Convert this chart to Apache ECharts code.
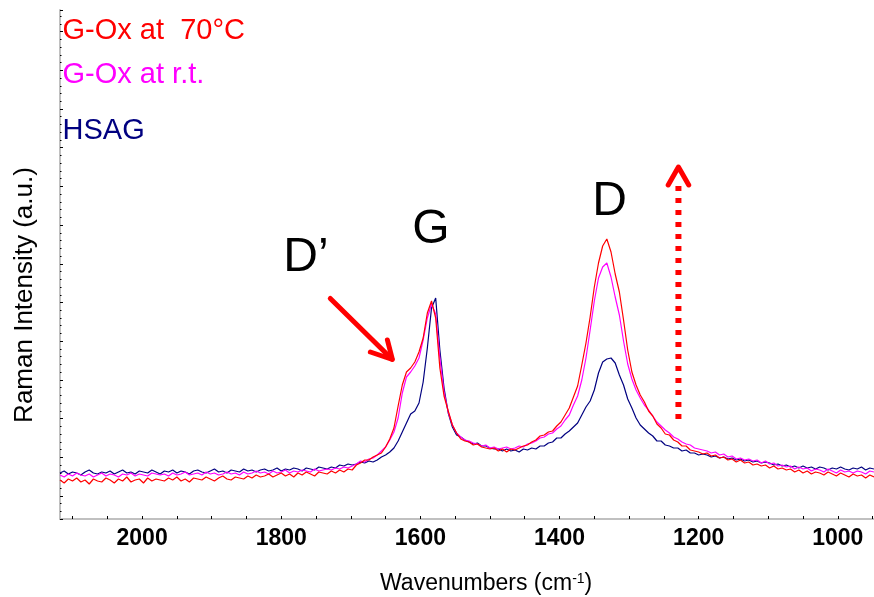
<!DOCTYPE html>
<html>
<head>
<meta charset="utf-8">
<script src="https://cdn.jsdelivr.net/npm/echarts@6/dist/echarts.min.js"></script>
<style>html,body{margin:0;padding:0;background:#fff}#main{width:874px;height:597px}</style>
</head>
<body>
<div id="main"></div>
<script>
// Wavenumbers (cm-1)
const wavenumbers = [
2118,2112,2106,2100,2094,2088,2082,2076,2070,2064,
2058,2052,2046,2040,2034,2028,2022,2016,2010,2004,
1998,1992,1986,1980,1974,1968,1962,1956,1950,1944,
1938,1932,1926,1920,1914,1908,1902,1896,1890,1884,
1878,1872,1866,1860,1854,1848,1842,1836,1830,1824,
1818,1812,1806,1800,1794,1788,1782,1776,1770,1764,
1758,1752,1746,1740,1734,1728,1722,1716,1710,1704,
1698,1692,1686,1680,1674,1668,1662,1656,1650,1644,
1638,1632,1626,1620,1614,1608,1602,1596,1590,1584,
1578,1572,1566,1560,1554,1548,1542,1536,1530,1524,
1518,1512,1506,1500,1494,1488,1482,1476,1470,1464,
1458,1452,1446,1440,1434,1428,1422,1416,1410,1404,
1398,1392,1386,1380,1374,1368,1362,1356,1350,1344,
1338,1332,1326,1320,1314,1308,1302,1296,1290,1284,
1278,1272,1266,1260,1254,1248,1242,1236,1230,1224,
1218,1212,1206,1200,1194,1188,1182,1176,1170,1164,
1158,1152,1146,1140,1134,1128,1122,1116,1110,1104,
1098,1092,1086,1080,1074,1068,1062,1056,1050,1044,
1038,1032,1026,1020,1014,1008,1002,996,990,984,
978,972,966,960,954,948];

// Raman intensity (a.u.)
const hsag = [
23,25,22,24,23,21,24,26,23,22,24,23,25,22,24,26,23,24,22,25,24,23,26,24,22,
25,24,26,23,25,24,22,25,26,24,23,25,27,24,25,23,26,25,24,27,25,26,24,26,
27,25,26,28,25,27,26,28,27,25,28,27,26,29,28,27,
29,28,31,30,32,31,
32,34,33,35,34,36,39,41,44,48,55,64,73,82,85,93,
114,148,188,198,146,108,83,69,61,59,56,
54,52,53,50,50,48,47,47,45,47,45,46,44,47,46,48,47,50,50,53,54,58,58,62,65,69,73,81,89,95,106,123,
134,137,138,133,121,111,97,88,78,71,
67,63,60,55,55,51,50,48,48,45,46,43,43,41,42,
41,39,40,38,39,37,38,36,37,35,36,34,35,33,34,33,31,32,30,31,29,30,28,30,28,29,27,29,28,26,28,27,29,27,26,28,27,29,26,28,27];

const goxRT = [
21,19,22,20,23,21,20,22,19,21,23,20,22,21,19,22,21,23,20,22,21,20,23,22,21,
22,20,23,21,22,24,21,22,23,21,24,22,23,21,22,24,22,23,21,24,22,23,25,23,
24,22,25,23,24,26,23,25,24,26,25,24,27,25,26,27,
26,28,27,29,28,30,
32,35,34,37,38,41,45,49,56,64,78,103,119,124,130,138,
156,178,192,182,138,104,84,71,63,59,56,
55,53,52,50,51,48,49,47,48,49,47,48,50,49,52,53,55,58,59,62,63,67,70,76,81,91,100,116,138,166,195,218,
229,233,219,199,181,155,132,117,106,98,
91,86,80,74,70,66,63,59,57,54,52,51,48,47,46,
45,43,44,41,42,39,40,37,38,36,37,35,36,33,35,32,33,30,31,29,30,27,29,27,28,25,27,26,24,27,25,23,26,24,25,23,25,24,22,25,24];

const gox70 = [
16,13,17,15,18,14,16,12,17,15,14,18,16,13,17,15,19,14,16,17,13,18,15,17,16,
15,18,16,19,15,17,14,18,17,16,19,17,15,18,20,17,16,19,18,17,20,18,21,19,
20,22,19,21,23,20,22,19,23,21,24,22,20,24,23,22,
25,23,26,24,27,26,
31,33,36,36,39,41,43,49,57,68,90,111,124,128,134,144,
158,183,195,178,128,100,85,71,63,57,55,
54,51,52,49,48,47,48,45,47,44,47,46,48,50,51,54,56,60,61,64,65,70,74,81,88,99,110,131,153,179,209,233,
250,257,244,222,204,176,146,124,111,101,
94,85,80,72,68,62,61,56,54,50,50,46,45,44,42,
43,40,41,38,39,36,37,34,36,33,34,31,32,30,31,28,30,27,28,26,27,24,26,23,25,22,24,23,21,24,22,20,23,21,19,22,20,21,18,21,19];

const seriesNames = ['HSAG', 'G-Ox at r.t.', 'G-Ox at  70\u00B0C'];
const xTickLabels = [1000, 1200, 1400, 1600, 1800, 2000];

// annotations in data coordinates [wavenumber, intensity]
const peakLabels = [
  {text: 'D\u2019', at: [1797, 238.5], align: 'left'},
  {text: 'G', at: [1584.8, 266], align: 'center'},
  {text: 'D', at: [1328, 294], align: 'center'}
];
const dPrimeArrow = {shaft: [[1729.5, 197.5], [1641, 137]], head: [[1671.9, 144], [1640.2, 136.5], [1647.4, 156]]};
const riseArrow = {shaft: [[1229.1, 77], [1229.1, 310]], head: [[1243.8, 311], [1229.1, 329], [1214.3, 311]]};

const FONT = '"Liberation Sans", Arial, Helvetica, sans-serif';
const colors = ['#000080', '#ff00ff', '#ff0000'];
const dataSets = [hsag, goxRT, gox70];

const chart = echarts.init(document.getElementById('main'), null, {renderer: 'canvas', width: 874, height: 597});
chart.setOption({
  animation: false,
  backgroundColor: '#ffffff',
  grid: {left: 60, right: 0, top: 10, bottom: 78, containLabel: false, outerBoundsMode: 'none'},
  xAxis: {
    type: 'value', inverse: true, min: 948, max: 2118,
    minInterval: 50, maxInterval: 50,
    axisLine: {show: true, onZero: false, lineStyle: {color: '#c0c0c0', width: 2}},
    axisTick: {show: true, inside: true, length: 3, lineStyle: {color: '#000', width: 1}},
    axisLabel: {
      formatter: v => (xTickLabels.indexOf(Math.round(v)) >= 0 && Math.abs(v - Math.round(v)) < 1e-6) ? String(Math.round(v)) : '',
      fontWeight: 'bold', fontSize: 23, color: '#000', fontFamily: FONT, margin: 8,
      showMinLabel: false, showMaxLabel: false, hideOverlap: false
    },
    splitLine: {show: false}
  },
  yAxis: {
    type: 'value', min: -23, max: 486,
    minInterval: 38.7, maxInterval: 38.7,
    axisLine: {show: true, onZero: false, lineStyle: {color: '#c0c0c0', width: 2}},
    axisTick: {show: true, inside: true, length: 3, lineStyle: {color: '#000', width: 1}},
    minorTick: {show: true, splitNumber: 5, length: 1.5, lineStyle: {color: '#000', width: 1}},
    axisLabel: {show: false},
    splitLine: {show: false}
  },
  series: dataSets.map((d, k) => ({
    name: seriesNames[k],
    type: 'line',
    showSymbol: false,
    symbol: 'none',
    data: wavenumbers.map((w, i) => [w, d[i]]),
    lineStyle: {color: colors[k], width: 1.2},
    itemStyle: {color: colors[k]},
    z: 2 + k
  }))
});

const toPx = p => chart.convertToPixel({gridIndex: 0}, p);
const g = [];
const legendRows = [
  {text: seriesNames[2], color: colors[2], y: 31},
  {text: seriesNames[1], color: colors[1], y: 74.5},
  {text: seriesNames[0], color: colors[0], y: 130.5}
];
legendRows.forEach(r => g.push({type: 'text', x: 62.5, y: r.y, z: 10,
  style: {text: r.text, fill: r.color, fontSize: 29, fontFamily: FONT, align: 'left', verticalAlign: 'middle'}}));
g.push({type: 'text', x: 25, y: 295, rotation: Math.PI / 2, z: 10,
  style: {text: 'Raman Intensity (a.u.)', fill: '#000', fontSize: 26, fontFamily: FONT, align: 'center', verticalAlign: 'middle'}});
g.push({type: 'text', x: 380, y: 584, z: 10,
  style: {text: '{n|Wavenumbers (cm}{s|-1}{n|)}', align: 'left', verticalAlign: 'middle',
    rich: {n: {fontSize: 23, fontFamily: FONT, fill: '#000'}, s: {fontSize: 14, fontFamily: FONT, fill: '#000', verticalAlign: 'top'}}}});
peakLabels.forEach(l => {
  const p = toPx(l.at);
  g.push({type: 'text', x: p[0], y: p[1], z: 10,
    style: {text: l.text, fill: '#000', fontSize: 48, fontFamily: FONT, align: l.align, verticalAlign: 'middle'}});
});
g.push({type: 'polyline', z: 10, shape: {points: dPrimeArrow.shaft.map(toPx)},
  style: {stroke: '#ff0000', lineWidth: 5, lineCap: 'round', fill: null}});
g.push({type: 'polyline', z: 10, shape: {points: dPrimeArrow.head.map(toPx)},
  style: {stroke: '#ff0000', lineWidth: 5, lineCap: 'round', lineJoin: 'round', fill: null}});
g.push({type: 'polyline', z: 10, shape: {points: riseArrow.shaft.map(toPx)},
  style: {stroke: '#ff0000', lineWidth: 6, lineDash: [5, 7], lineCap: 'butt', fill: null}});
g.push({type: 'polyline', z: 10, shape: {points: riseArrow.head.map(toPx)},
  style: {stroke: '#ff0000', lineWidth: 5, lineCap: 'round', lineJoin: 'round', fill: null}});

chart.setOption({graphic: g});
</script>
</body>
</html>
